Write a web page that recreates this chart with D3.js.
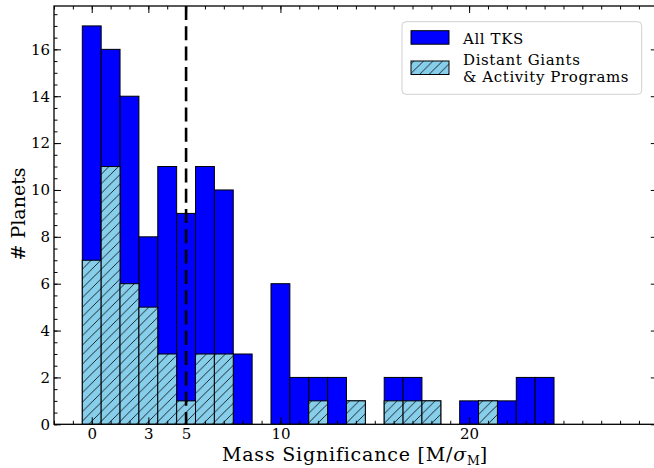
<!DOCTYPE html>
<html>
<head>
<meta charset="utf-8">
<script src="https://cdn.jsdelivr.net/npm/d3@7"></script>
<style>
  html, body { margin: 0; padding: 0; background: #fff; }
  svg { display: block; }
  text { font-family: "DejaVu Serif", serif; fill: #000; }
</style>
</head>
<body>
<svg id="chart" width="654" height="468"></svg>
<script>
// Histogram bins (centred on integer mass significance values)
const binCenters = [0, 1, 2, 3, 4, 5, 6, 7, 8, 9, 10, 11, 12, 13, 14, 15, 16, 17, 18, 19, 20, 21, 22, 23, 24];
// Counts per bin: all TKS planets
const allTKS = [17, 16, 14, 8, 11, 9, 11, 10, 3, 0, 6, 2, 2, 2, 1, 0, 2, 2, 1, 0, 1, 1, 1, 2, 2];
// Counts per bin: Distant Giants & Activity programs
const dgActivity = [7, 11, 6, 5, 3, 1, 3, 3, 0, 0, 0, 0, 1, 0, 1, 0, 1, 1, 1, 0, 0, 1, 0, 0, 0];

const xMajorTicks = [0, 3, 5, 10, 20];
const yMajorTicks = [0, 2, 4, 6, 8, 10, 12, 14, 16];
const thresholdValue = 5;
const seriesNames = ["All TKS", "Distant Giants", "& Activity Programs"];

const svg = d3.select("#chart");
const pLeft = 54, pTop = 6, pRight = 657.8, pBottom = 424.3;

const x = d3.scaleLinear().domain([-2, 30]).range([pLeft, pRight]);
const y = d3.scaleLinear().domain([0, 17.85]).range([pBottom, pTop]);

// hatch pattern for the subset histogram
const defs = svg.append("defs");
const hs = 9.5;
const pat = defs.append("pattern")
  .attr("id", "hatch")
  .attr("patternUnits", "userSpaceOnUse")
  .attr("width", hs).attr("height", hs);
pat.append("rect").attr("width", hs).attr("height", hs).attr("fill", "#87CEEB");
pat.append("path")
  .attr("d", `M0,${hs} L${hs},0 M${-hs/2},${hs/2} L${hs/2},${-hs/2} M${hs/2},${hs*1.5} L${hs*1.5},${hs/2}`)
  .attr("stroke", "#000").attr("stroke-width", 0.8);

defs.append("clipPath").attr("id", "plotclip")
  .append("rect").attr("x", pLeft).attr("y", pTop).attr("width", pRight - pLeft).attr("height", pBottom - pTop);

const plot = svg.append("g").attr("clip-path", "url(#plotclip)");

// All TKS bars
plot.append("g").selectAll("rect")
  .data(binCenters.map((c, i) => ({ c, v: allTKS[i] })).filter(d => d.v > 0))
  .join("rect")
  .attr("x", d => x(d.c - 0.5))
  .attr("width", d => x(d.c + 0.5) - x(d.c - 0.5))
  .attr("y", d => y(d.v))
  .attr("height", d => y(0) - y(d.v))
  .attr("fill", "#0000FF")
  .attr("stroke", "#000").attr("stroke-width", 1);

// Distant Giants & Activity bars
plot.append("g").selectAll("rect")
  .data(binCenters.map((c, i) => ({ c, v: dgActivity[i] })).filter(d => d.v > 0))
  .join("rect")
  .attr("x", d => x(d.c - 0.5))
  .attr("width", d => x(d.c + 0.5) - x(d.c - 0.5))
  .attr("y", d => y(d.v))
  .attr("height", d => y(0) - y(d.v))
  .attr("fill", "url(#hatch)")
  .attr("stroke", "#000").attr("stroke-width", 1);

// threshold line
plot.append("line")
  .attr("x1", x(thresholdValue)).attr("x2", x(thresholdValue))
  .attr("y1", y(17.85)).attr("y2", y(0))
  .attr("stroke", "#000").attr("stroke-width", 2.6)
  .attr("stroke-dasharray", "14,6.3");

// axes: ticks pointing inward on all four sides
const xMinor = d3.range(-2, 31, 1);
const yMinor = d3.range(0, 17.85, 0.5);
const majLen = 7, minLen = 3.5;

function addAxis(axisGen, transform) {
  const g = svg.append("g").attr("transform", transform).call(axisGen);
  g.select(".domain").remove();
  g.selectAll(".tick line").attr("stroke", "#000").attr("stroke-width", 1);
  return g;
}

// minor ticks
addAxis(d3.axisBottom(x).tickValues(xMinor).tickSize(-minLen).tickFormat(""), `translate(0,${pBottom})`);
addAxis(d3.axisTop(x).tickValues(xMinor).tickSize(-minLen).tickFormat(""), `translate(0,${pTop})`);
addAxis(d3.axisLeft(y).tickValues(yMinor).tickSize(-minLen).tickFormat(""), `translate(${pLeft},0)`);
addAxis(d3.axisRight(y).tickValues(yMinor).tickSize(-minLen).tickFormat(""), `translate(${pRight},0)`);

// major ticks with labels
const xb = addAxis(d3.axisBottom(x).tickValues(xMajorTicks).tickSize(-majLen).tickPadding(4.5).tickFormat(d3.format("d")), `translate(0,${pBottom})`);
xb.selectAll("text").style("font-size", "15px").style("font-family", "DejaVu Serif");
addAxis(d3.axisTop(x).tickValues(xMajorTicks).tickSize(-majLen).tickFormat(""), `translate(0,${pTop})`);
const yl = addAxis(d3.axisLeft(y).tickValues(yMajorTicks).tickSize(-majLen).tickPadding(4).tickFormat(d3.format("d")), `translate(${pLeft},0)`);
yl.selectAll("text").style("font-size", "15px").style("font-family", "DejaVu Serif");
addAxis(d3.axisRight(y).tickValues(yMajorTicks).tickSize(-majLen).tickFormat(""), `translate(${pRight},0)`);

// frame
svg.append("rect")
  .attr("x", pLeft).attr("y", pTop).attr("width", pRight - pLeft).attr("height", pBottom - pTop)
  .attr("fill", "none").attr("stroke", "#000").attr("stroke-width", 1.3);

// axis titles
const xt = svg.append("text")
  .attr("x", 355).attr("y", 461)
  .attr("text-anchor", "middle")
  .style("font-size", "19px")
  .style("letter-spacing", "0.8px");
xt.append("tspan").text("Mass Significance [M/");
xt.append("tspan").style("font-style", "italic").text("σ");
xt.append("tspan").style("font-size", "12.5px").style("letter-spacing", "0px").attr("dy", 4).text("M");
xt.append("tspan").attr("dy", -4).text("]");

svg.append("text")
  .attr("transform", "translate(25,214) rotate(-90)")
  .attr("text-anchor", "middle")
  .style("font-size", "19px")
  .text("# Planets");

// legend
const lg = svg.append("g");
lg.append("rect")
  .attr("x", 402).attr("y", 21.7).attr("width", 239.7).attr("height", 72.6)
  .attr("rx", 4).attr("ry", 4)
  .attr("fill", "#fff").attr("fill-opacity", 0.8)
  .attr("stroke", "#d0d0d0").attr("stroke-width", 1);
lg.append("rect")
  .attr("x", 411).attr("y", 30.7).attr("width", 38).attr("height", 13.5)
  .attr("fill", "#0000FF").attr("stroke", "#000").attr("stroke-width", 1);
lg.append("rect")
  .attr("x", 411).attr("y", 61).attr("width", 38).attr("height", 13.5)
  .attr("fill", "url(#hatch)").attr("stroke", "#000").attr("stroke-width", 1);
const legendText = (yPos, s) => lg.append("text").attr("x", 463).attr("y", yPos)
  .style("font-size", "15px").style("letter-spacing", "0.6px").text(s);
legendText(43.5, seriesNames[0]);
legendText(65, seriesNames[1]);
legendText(81.5, seriesNames[2]);
</script>
</body>
</html>
